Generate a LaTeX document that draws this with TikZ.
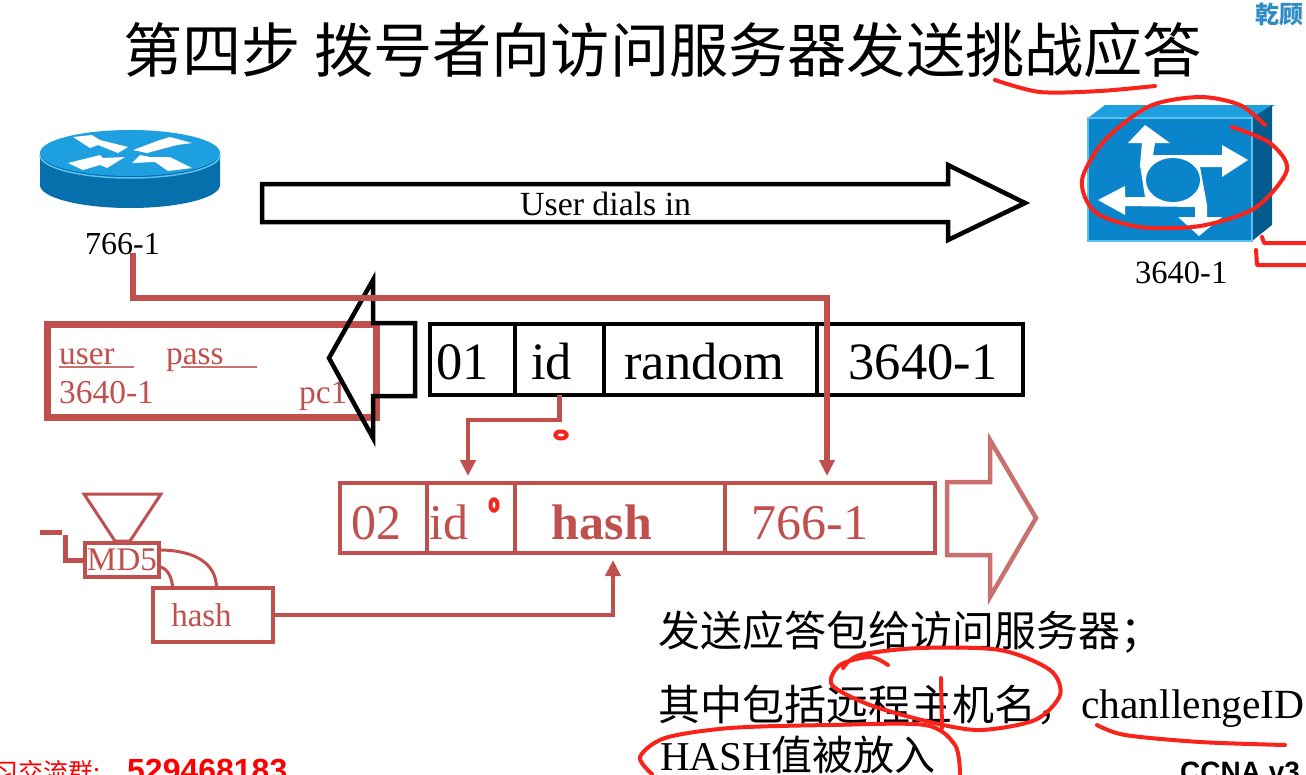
\documentclass[tikz,border=0pt]{standalone}
\usepackage{fontspec}
\setmainfont{Liberation Serif}
\newfontfamily\cjk{Noto Sans CJK SC}
\newfontfamily\arialbd[BoldFont=Liberation Sans Bold]{Liberation Sans}
\usetikzlibrary{arrows.meta}
\definecolor{brick}{HTML}{C0504D}
\definecolor{brickpale}{HTML}{C9716E}
\definecolor{inkred}{HTML}{F8231A}
\definecolor{ciscotop}{HTML}{1E9FE0}
\definecolor{ciscoside}{HTML}{0670AC}
\definecolor{ciscodark}{HTML}{045C8E}
\definecolor{ciscofront}{HTML}{0A85CB}
\definecolor{ciscoedge}{HTML}{5CC0EC}
\definecolor{wmark}{HTML}{2F8CC4}
\tikzset{
  fld/.style={draw=black,line width=4.5pt,outer sep=0pt,inner sep=0pt,minimum height=71pt,text height=40pt,text depth=0pt,font=\fontsize{52.5}{52}\selectfont},
  fldb/.style={draw=brick,text=brick,line width=4.5pt,outer sep=0pt,inner sep=0pt,minimum height=70pt,text height=43pt,text depth=0pt,font=\fontsize{50}{50}\selectfont},
  txt/.style={anchor=base west,inner sep=0pt,font=\fontsize{33.4}{33}\selectfont},
  zh/.style={anchor=base west,inner sep=0pt,font=\cjk\fontsize{42}{42}\selectfont},
  wire/.style={draw=brick,line width=4.5pt,-{Triangle[length=16pt,width=15pt]},line join=miter},
  ink/.style={draw=inkred,line width=4pt,line cap=round,line join=round}
}
\begin{document}
\begin{tikzpicture}[x=1pt,y=-1pt]
  \useasboundingbox (0,0) rectangle (1306,774);
  \clip (0,0) rectangle (1306,774);
  \fill[white] (0,0) rectangle (1306,774);

  % title and corner texts
  \node[anchor=base west,inner sep=0pt,font=\cjk\fontsize{59.2}{59}\selectfont] (title) at (123,72) {第四步 拨号者向访问服务器发送挑战应答};
  \node[anchor=base west,inner sep=0pt,text=wmark,font=\cjk\bfseries\fontsize{24}{24}\selectfont] (wmark) at (1255,23) {乾顾};
  \node[anchor=base west,inner sep=0pt,text=red,font=\cjk\fontsize{25}{25}\selectfont] (group) at (-7,781) {习交流群:};
  \node[anchor=base west,inner sep=0pt,text=red,font=\arialbd\bfseries\fontsize{32}{32}\selectfont] (groupno) at (127,781) {529468183};
  \node[anchor=base west,inner sep=0pt,font=\arialbd\bfseries\fontsize{28}{28}\selectfont] (ccna) at (1180,781) {CCNA v3};

  % router
  \fill[ciscoside] (40,153) -- (40,185) arc[start angle=180,end angle=0,x radius=90,y radius=23] -- (220,153) -- cycle;
  \fill[ciscotop] (130,153) ellipse[x radius=90,y radius=23];
  \draw[ciscoedge,line width=1.5pt] (40,155) arc[start angle=180,end angle=0,x radius=90,y radius=23];
  \fill[white] (73,137) -- (92,135) -- (100,140) -- (128,147) -- (118,153) -- (98,145) -- (90,148) -- cycle;
  \fill[white] (133,150) -- (160,140) -- (170,137) -- (192,143) -- (177,145) -- (147,153) -- cycle;
  \fill[white] (68,163) -- (100,155) -- (103,158) -- (125,157) -- (107,168) -- (100,165) -- (83,170) -- cycle;
  \fill[white] (132,163) -- (140,155) -- (150,157) -- (170,157) -- (192,168) -- (168,171) -- (155,162) -- cycle;
  \node[txt,font=\fontsize{32}{32}\selectfont] (r766) at (85,254) {766-1};

  % access server
  \fill[ciscotop] (1088,118) -- (1105,105) -- (1275,105) -- (1252,118) -- cycle;
  \fill[ciscodark] (1252,118) -- (1272,105) -- (1272,225) -- (1252,241) -- cycle;
  \draw[ciscoedge,line width=1.5pt,fill=ciscofront] (1088,118) rectangle (1252,241);
  \fill[white] (1145,125) -- (1170,143) -- (1155,143) -- (1153,155) -- (1222,155) -- (1222,145) -- (1248,160) -- (1222,177) -- (1222,167) -- (1200,167) -- (1207,205) -- (1207,217) -- (1222,217) -- (1199,236) -- (1178,217) -- (1195,217) -- (1195,207) -- (1125,206) -- (1125,215) -- (1098,200) -- (1125,186) -- (1125,197) -- (1145,197) -- (1140,165) -- (1142,143) -- (1128,143) -- cycle;
  \fill[ciscofront] (1173,180) ellipse[x radius=27,y radius=22];
  \node[txt,font=\fontsize{32.5}{32}\selectfont] (s3640) at (1135,283) {3640-1};

  % user dials in
  \draw[line width=4.5pt,miter limit=10] (262,184) -- (948,184) -- (948,165) -- (1025,203) -- (948,240) -- (948,222) -- (262,222) -- cycle;
  \node[txt,font=\fontsize{33.8}{33}\selectfont] (dials) at (520,215) {User dials in};

  % credentials box
  \draw[brick,line width=7pt] (47,324) rectangle (376,417);
  \node[txt,text=brick] (user) at (59,364) {user};
  \node[txt,text=brick] (pass) at (166,364) {pass};
  \node[txt,text=brick] (host) at (59,403) {3640-1};
  \node[txt,text=brick] (pc) at (299,403) {pc1};
  \draw[brickpale,line width=1.5pt] (59,367) -- (134,367);
  \draw[brickpale,line width=1.5pt] (181,367) -- (257,367);

  % challenge packet
  \node[fld,minimum width=85pt] (ch01) at (472.5,359.5) {01\hspace*{20pt}};
  \node[fld,minimum width=89pt] (chid) at (559.5,359.5) {id\hspace*{16pt}};
  \node[fld,minimum width=213pt] (chrand) at (710.5,359.5) {random\hspace*{12pt}};
  \node[fld,minimum width=206pt] (chname) at (920,359.5) {\hspace*{6pt}3640-1};
  \draw[line width=4.5pt,miter limit=10] (415,323) -- (373,323) -- (373,280) -- (329,358) -- (373,438) -- (373,396) -- (415,396) -- cycle;

  % response packet
  \node[fldb,minimum width=87pt] (re02) at (383.5,518) {02\hspace*{14pt}};
  \node[fldb,minimum width=88pt] (reid) at (471,518) {id\hspace*{44pt}};
  \node[fldb,minimum width=210pt] (rehash) at (620,518) {\bfseries hash\hspace*{36pt}};
  \node[fldb,minimum width=210pt] (rename) at (830,518) {766-1\hspace*{40pt}};
  \draw[brickpale,line width=4.5pt,miter limit=10] (947,482) -- (990,482) -- (990,440) -- (1036,518) -- (990,597) -- (990,555) -- (947,555) -- cycle;

  % md5 box
  \draw[brick,line width=3pt] (84,494) -- (161,494) -- (130,541) -- (115,541) -- cycle;
  \node[draw=brick,text=brick,line width=4pt,outer sep=0pt,inner sep=0pt,minimum width=74pt,minimum height=34pt,font=\fontsize{33}{33}\selectfont] (md5) at (122,560) {MD5};
  \node[draw=brick,text=brick,line width=4pt,outer sep=0pt,inner sep=0pt,minimum width=120pt,minimum height=54pt,font=\fontsize{33}{33}\selectfont] (hashbox) at (212.5,615) {hash\hspace*{22pt}};
  \draw[brick,line width=5pt] (40,532) -- (62,532);
  \draw[brick,line width=5pt] (65,535) -- (65,560) -- (md5.west);
  \draw[brick,line width=3pt] ([yshift=10pt]md5.east) .. controls +(35,0) and +(0,-25) .. ([xshift=4pt]hashbox.north);
  \draw[brick,line width=3pt] ([yshift=-7pt]md5.east) .. controls +(8,0) and +(0,-10) .. ([xshift=-40pt]hashbox.north);

  % connectors
  \coordinate (from766) at (133,253);
  \coordinate (turn766) at (827,298);
  \coordinate (into766) at (827,476);
  \coordinate (turnid) at (468,420);
  \coordinate (intoid) at (468,476);
  \coordinate (intohash) at (613,560);
  \draw[wire,line width=5.5pt] (from766) |- (turn766) -- (into766);
  \draw[wire] (chid.south) |- (turnid) -- (intoid);
  \draw[wire] (hashbox.east) -| (intohash);

  % note
  \node[zh] (note1) at (658,646) {发送应答包给访问服务器；};
  \node[zh] (note2) at (658,720) {其中包括远程主机名，};
  \node[anchor=base west,inner sep=0pt,font=\fontsize{41.5}{41}\selectfont] (chal) at (1081,718) {chanllengeID};
  \node[anchor=base west,inner sep=0pt,font=\fontsize{41}{41}\selectfont] (note3) at (660,770) {HASH\cjk 值被放入};

  % hand marks
  \draw[ink] plot[smooth] coordinates {(995,80) (1040,92) (1100,91) (1155,86)};
  \draw[ink] plot[smooth] coordinates {(1265,125) (1240,105) (1200,97) (1150,106) (1105,140) (1082,180) (1095,212) (1140,227) (1200,226) (1255,208) (1287,170) (1270,143) (1232,127)};
  \draw[ink] (1262,237) -- (1264,243) -- (1306,243);
  \draw[ink] (1256,250) -- (1257,265) -- (1306,265);
  \draw[ink] (561,435) ellipse[x radius=6,y radius=3.5];
  \draw[ink] (494,505) ellipse[x radius=3.5,y radius=6];
  \draw[ink] plot[smooth] coordinates {(843,668) (860,655) (920,648) (1000,650) (1050,670) (1060,695) (1035,720) (980,730) (930,722) (870,705) (832,685) (840,665) (870,657) (888,665)};
  \draw[ink] (941,678) -- (942,728);
  \draw[ink] plot[smooth] coordinates {(652,774) (640,757) (665,738) (730,728) (830,725) (925,725) (955,745) (960,774)};
  \draw[ink] plot[smooth] coordinates {(1097,725) (1125,735) (1200,742) (1285,745)};
\end{tikzpicture}
\end{document}
